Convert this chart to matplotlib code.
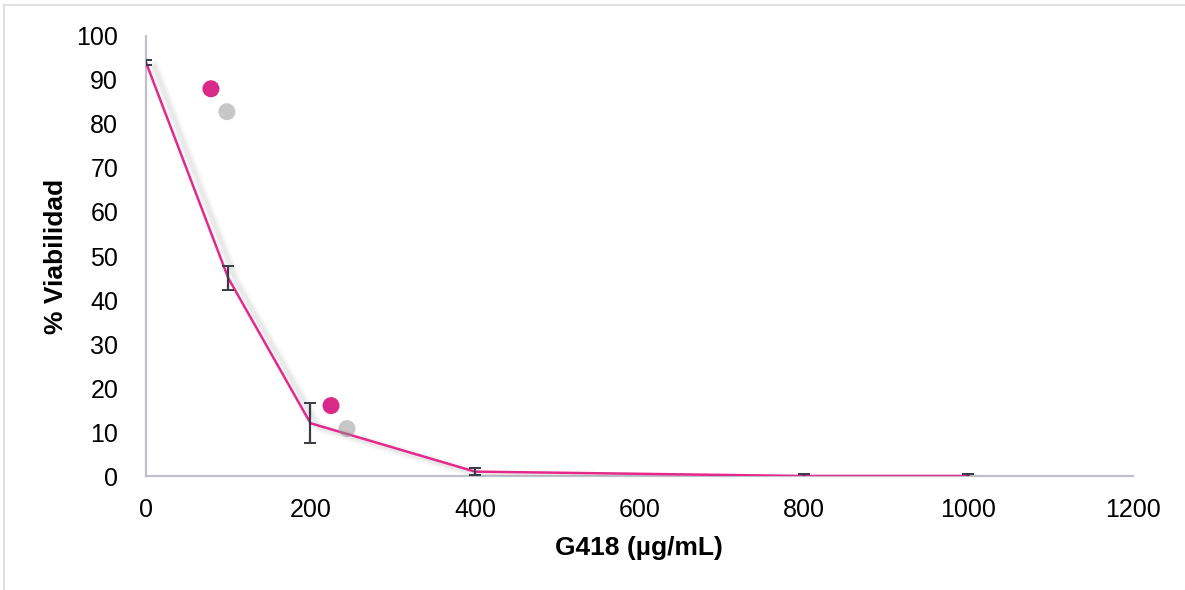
import matplotlib
matplotlib.use("Agg")
import matplotlib.pyplot as plt
import matplotlib.patheffects as pe
from matplotlib.patches import Rectangle

plt.rcParams['font.family'] = ['Liberation Sans', 'DejaVu Sans']

# data
dosis = [0, 100, 200, 400, 800, 1000]
viabilidad = [94, 45, 12, 1, 0, 0]
error = [0.6, 2.7, 4.5, 0.8, 0.5, 0.5]

puntos_x = [79, 225]
puntos_y = [88, 16]

x_ticks = [0, 200, 400, 600, 800, 1000, 1200]
y_ticks = [0, 10, 20, 30, 40, 50, 60, 70, 80, 90, 100]

line_col = '#e5298b'
dot_col = '#d92a8a'
spine_col = '#c0c0cc'

fig = plt.figure(figsize=(11.85, 5.9), dpi=100)
ax = fig.add_axes([0.1232, 0.1932, 0.8328, 0.7458])

# light frame around the chart
fig.patches.append(Rectangle((4 / 1185, -0.1), 1.2, 1.1 - 5 / 590,
                             transform=fig.transFigure, fill=False,
                             edgecolor='#d9d9e0', linewidth=1.2))

shadow = [pe.SimpleLineShadow(offset=(6, -3), shadow_color='#808080', alpha=0.07, linewidth=7),
          pe.SimpleLineShadow(offset=(6, -3), shadow_color='#808080', alpha=0.10, linewidth=3.5),
          pe.Normal()]

ax.plot(dosis, viabilidad, color=line_col, linewidth=1.8, zorder=3,
        path_effects=shadow)
ax.errorbar(dosis, viabilidad, yerr=error, fmt='none', ecolor='#3a3a48',
            elinewidth=1.6, capsize=4.5, capthick=1.4, zorder=4)

dot_shadow = [pe.SimplePatchShadow(offset=(11.5, -16.5), shadow_rgbFace='#909090', alpha=0.5),
              pe.Normal()]
ax.scatter(puntos_x, puntos_y, s=150, color=dot_col, edgecolors='none', zorder=5,
           path_effects=dot_shadow)

ax.set_xlim(0, 1200)
ax.set_ylim(0, 100)
ax.set_xticks(x_ticks)
ax.set_yticks(y_ticks)
ax.tick_params(axis='both', length=0, labelsize=18, colors='black')
ax.tick_params(axis='x', pad=16)
ax.tick_params(axis='y', pad=20)

for s in ['top', 'right']:
    ax.spines[s].set_visible(False)
for s in ['left', 'bottom']:
    ax.spines[s].set_color(spine_col)
    ax.spines[s].set_linewidth(1.6)

ax.set_xlabel('G418 (µg/mL)', fontsize=19, fontweight='bold', labelpad=10)
ax.set_ylabel('% Viabilidad', fontsize=19, fontweight='bold', labelpad=6)

fig.savefig('out.png', dpi=100)
